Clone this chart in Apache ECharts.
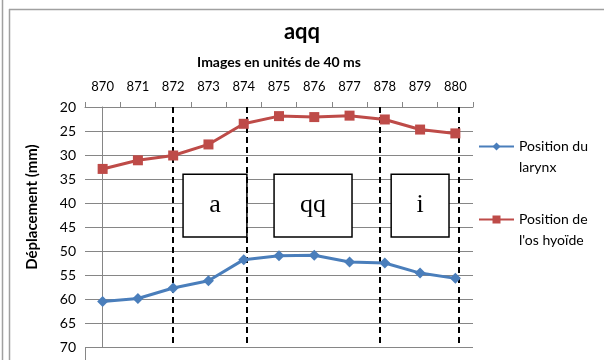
<!DOCTYPE html>
<html>
<head>
<meta charset="utf-8">
<script src="https://cdn.jsdelivr.net/npm/echarts@6/dist/echarts.min.js"></script>
<style>
  html, body { margin: 0; padding: 0; background: #fff; }
  #chart { width: 604px; height: 360px; }
</style>
</head>
<body>
<div id="chart"></div>
<script>
// images (x axis, top)
var frames = ["870", "871", "872", "873", "874", "875", "876", "877", "878", "879", "880"];
// déplacement (mm)
var larynx = [60.5, 59.9, 57.7, 56.2, 51.8, 51.0, 50.9, 52.3, 52.5, 54.6, 55.7];
var hyoide = [32.9, 31.1, 30.1, 27.8, 23.5, 21.9, 22.1, 21.8, 22.6, 24.7, 25.5];
var yTicks = [20, 25, 30, 35, 40, 45, 50, 55, 60, 65, 70];

// annotations: phase boundaries (frame index) and phase boxes
var boundaries = [2.0, 4.09, 7.86, 10.1];
var phases = [
  { label: "a", from: 2.28, to: 4.09 },
  { label: "qq", from: 4.86, to: 7.07 },
  { label: "i", from: 8.18, to: 9.82 }
];
var boxTop = 34, boxBottom = 47.1;

(function () {
  var myChart = echarts.init(document.getElementById("chart"));
  var font = "Lato";
  // blank first line so the icon sits beside the first text line
  var legendText = {
    "Position du larynx": "\nPosition du\nlarynx",
    "Position de l'os hyoïde": "\nPosition de\nl'os hyoïde"
  };

  var option = {
    backgroundColor: "#fff",
    animation: false,
    title: {
      text: "aqq",
      left: "center",
      top: 16,
      textStyle: { fontFamily: font, fontSize: 22, fontWeight: "bold", color: "#000" }
    },
    legend: {
      orient: "vertical",
      left: 473,
      top: 110,
      itemWidth: 35,
      itemHeight: 10,
      itemGap: 10,
      data: ["Position du larynx", "Position de l'os hyoïde"],
      formatter: function (name) { return legendText[name]; },
      textStyle: { fontFamily: font, fontSize: 14, color: "#000", lineHeight: 21 }
    },
    grid: { left: 85, right: 131, top: 107, bottom: 13 },
    xAxis: [
      {
        type: "category",
        position: "top",
        data: frames,
        boundaryGap: true,
        name: "Images en unités de 40 ms",
        nameLocation: "middle",
        nameGap: 38,
        nameTextStyle: { fontFamily: font, fontSize: 14, fontWeight: "bold", color: "#000" },
        axisLine: { lineStyle: { color: "#868686" } },
        axisTick: { show: true, inside: false, length: 5, lineStyle: { color: "#868686" } },
        axisLabel: { fontFamily: font, fontSize: 13, color: "#000", margin: 14 },
        splitLine: { show: false }
      },
      {
        type: "value",
        show: false,
        min: -0.5,
        max: 10.5
      }
    ],
    yAxis: {
      type: "value",
      inverse: true,
      min: yTicks[0],
      max: yTicks[yTicks.length - 1],
      interval: 5,
      name: "Déplacement (mm)",
      nameLocation: "middle",
      nameGap: 45,
      nameTextStyle: {
        fontFamily: font, fontSize: 15, fontWeight: "bold", color: "#000",
        padding: [0, 0, 0, 40]
      },
      axisLine: { show: true, lineStyle: { color: "#868686" } },
      axisTick: { show: true, length: 5, lineStyle: { color: "#868686" } },
      axisLabel: { fontFamily: font, fontSize: 14, color: "#000", margin: 9 },
      splitLine: { lineStyle: { color: "#868686", width: 1 } }
    },
    graphic: [
      { type: "line", shape: { x1: 2.5, y1: 0, x2: 2.5, y2: 360 }, style: { stroke: "#a0a0a0", lineWidth: 1.5 } },
      { type: "line", shape: { x1: 9.5, y1: 9, x2: 9.5, y2: 360 }, style: { stroke: "#a0a0a0", lineWidth: 1.5 } },
      { type: "line", shape: { x1: 9, y1: 9.5, x2: 604, y2: 9.5 }, style: { stroke: "#a0a0a0", lineWidth: 1.5 } },
      { type: "line", shape: { x1: 85.5, y1: 347, x2: 85.5, y2: 360 }, style: { stroke: "#868686", lineWidth: 1 } }
    ],
    series: [
      {
        name: "Position du larynx",
        type: "line",
        data: larynx,
        symbol: "diamond",
        symbolSize: 11,
        itemStyle: { color: "#4a7ebb" },
        lineStyle: { color: "#4a7ebb", width: 3 },
        z: 5
      },
      {
        name: "Position de l'os hyoïde",
        type: "line",
        data: hyoide,
        symbol: "rect",
        symbolSize: 10,
        itemStyle: { color: "#be4b48" },
        lineStyle: { color: "#be4b48", width: 3 },
        z: 5
      },
      {
        name: "phases",
        type: "line",
        xAxisIndex: 1,
        data: [],
        silent: true,
        markArea: {
          silent: true,
          itemStyle: { color: "#fff", borderColor: "#000", borderWidth: 1.5 },
          label: {
            show: true,
            position: "inside",
            fontFamily: "Liberation Serif",
            fontSize: 26,
            color: "#000"
          },
          data: phases.map(function (p) {
            return [
              { name: p.label, coord: [p.from, boxTop] },
              { coord: [p.to, boxBottom] }
            ];
          })
        },
        markLine: {
          silent: true,
          symbol: ["none", "none"],
          label: { show: false },
          lineStyle: { color: "#000", type: [6, 4], width: 2 },
          data: boundaries.map(function (b) {
            return [{ coord: [b, yTicks[0]] }, { coord: [b, yTicks[yTicks.length - 1]] }];
          })
        },
        z: 3
      }
    ]
  };

  myChart.setOption(option);
  window.addEventListener("resize", function () {
    myChart.resize();
  });
})();
</script>
</body>
</html>
